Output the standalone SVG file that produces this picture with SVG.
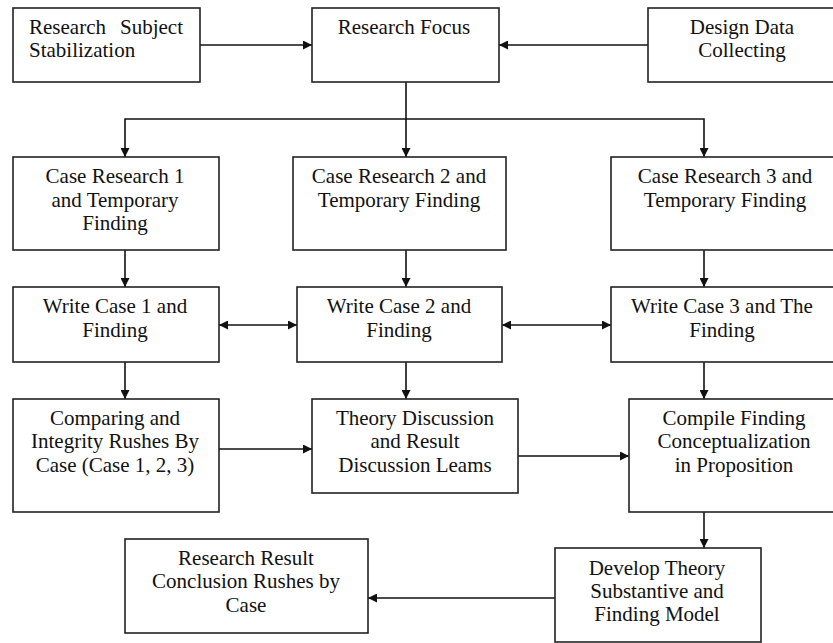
<svg xmlns="http://www.w3.org/2000/svg" width="833" height="643" viewBox="0 0 833 643">
<style>
.box{fill:#fff;stroke:#222;stroke-width:1.6}
.t{font-size:21px;fill:#111;text-anchor:middle}
.c{stroke:#111;stroke-width:1.6;fill:none}
</style>
<defs>
<marker id="ah" viewBox="0 0 10 10" refX="10" refY="5" markerWidth="10" markerHeight="9" markerUnits="userSpaceOnUse" orient="auto-start-reverse">
<path d="M0,0 L10,5 L0,10 z" fill="#111"/>
</marker>
</defs>
<rect width="833" height="643" fill="#fff"/>
<g id="connectors">
<line class="c" x1="200" y1="45" x2="312" y2="45" marker-end="url(#ah)"/>
<line class="c" x1="648" y1="45" x2="499" y2="45" marker-end="url(#ah)"/>
<line class="c" x1="406" y1="82" x2="406" y2="157" marker-end="url(#ah)"/>
<polyline class="c" points="125,157 125,119 704,119 704,157" marker-start="url(#ah)" marker-end="url(#ah)"/>
<line class="c" x1="125" y1="250" x2="125" y2="287" marker-end="url(#ah)"/>
<line class="c" x1="406" y1="250" x2="406" y2="287" marker-end="url(#ah)"/>
<line class="c" x1="704" y1="250" x2="704" y2="287" marker-end="url(#ah)"/>
<line class="c" x1="219" y1="325" x2="297" y2="325" marker-start="url(#ah)" marker-end="url(#ah)"/>
<line class="c" x1="502" y1="325" x2="611" y2="325" marker-start="url(#ah)" marker-end="url(#ah)"/>
<line class="c" x1="125" y1="362" x2="125" y2="399" marker-end="url(#ah)"/>
<line class="c" x1="406" y1="362" x2="406" y2="399" marker-end="url(#ah)"/>
<line class="c" x1="704" y1="362" x2="704" y2="399" marker-end="url(#ah)"/>
<line class="c" x1="219" y1="449" x2="312" y2="449" marker-end="url(#ah)"/>
<line class="c" x1="518" y1="456" x2="629" y2="456" marker-end="url(#ah)"/>
<line class="c" x1="704" y1="512" x2="704" y2="548" marker-end="url(#ah)"/>
<line class="c" x1="555" y1="598" x2="368" y2="598" marker-end="url(#ah)"/>
</g>
<g font-family="Liberation Serif, DejaVu Serif, serif">
<g id="stabilization">
<rect class="box" x="13" y="8" width="187" height="74"/>
<text class="t" style="text-anchor:start"><tspan x="29" y="34">Research</tspan><tspan x="183" y="34" text-anchor="end">Subject</tspan><tspan x="29" y="57">Stabilization</tspan></text>
</g>
<g id="focus">
<rect class="box" x="312" y="8" width="187" height="74"/>
<text class="t" x="404" y="34">Research Focus</text>
</g>
<g id="design">
<rect class="box" x="648" y="8" width="190" height="74"/>
<text class="t"><tspan x="742" y="34">Design Data</tspan><tspan x="742" y="57">Collecting</tspan></text>
</g>
<g id="case1">
<rect class="box" x="13" y="157" width="206" height="93"/>
<text class="t"><tspan x="115" y="183">Case Research 1</tspan><tspan x="115" y="207">and Temporary</tspan><tspan x="115" y="230">Finding</tspan></text>
</g>
<g id="case2">
<rect class="box" x="293" y="157" width="213" height="93"/>
<text class="t"><tspan x="399" y="183">Case Research 2 and</tspan><tspan x="399" y="207">Temporary Finding</tspan></text>
</g>
<g id="case3">
<rect class="box" x="611" y="157" width="227" height="93"/>
<text class="t"><tspan x="725" y="183">Case Research 3 and</tspan><tspan x="725" y="207">Temporary Finding</tspan></text>
</g>
<g id="write1">
<rect class="box" x="13" y="287" width="206" height="75"/>
<text class="t"><tspan x="115" y="313">Write Case 1 and</tspan><tspan x="115" y="337">Finding</tspan></text>
</g>
<g id="write2">
<rect class="box" x="297" y="287" width="205" height="75"/>
<text class="t"><tspan x="399" y="313">Write Case 2 and</tspan><tspan x="399" y="337">Finding</tspan></text>
</g>
<g id="write3">
<rect class="box" x="611" y="287" width="227" height="75"/>
<text class="t"><tspan x="722" y="313">Write Case 3 and The</tspan><tspan x="722" y="337">Finding</tspan></text>
</g>
<g id="comparing">
<rect class="box" x="13" y="399" width="206" height="113"/>
<text class="t"><tspan x="115" y="425">Comparing and</tspan><tspan x="115" y="448">Integrity Rushes By</tspan><tspan x="115" y="472">Case (Case 1, 2, 3)</tspan></text>
</g>
<g id="theory">
<rect class="box" x="312" y="399" width="206" height="94"/>
<text class="t"><tspan x="415" y="425">Theory Discussion</tspan><tspan x="415" y="448">and Result</tspan><tspan x="415" y="472">Discussion Leams</tspan></text>
</g>
<g id="compile">
<rect class="box" x="629" y="399" width="209" height="113"/>
<text class="t"><tspan x="734" y="425">Compile Finding</tspan><tspan x="734" y="448">Conceptualization</tspan><tspan x="734" y="472">in Proposition</tspan></text>
</g>
<g id="develop">
<rect class="box" x="555" y="548" width="206" height="94"/>
<text class="t"><tspan x="657" y="575">Develop Theory</tspan><tspan x="657" y="598">Substantive and</tspan><tspan x="657" y="621">Finding Model</tspan></text>
</g>
<g id="result">
<rect class="box" x="125" y="539" width="243" height="94"/>
<text class="t"><tspan x="246" y="565">Research Result</tspan><tspan x="246" y="588">Conclusion Rushes by</tspan><tspan x="246" y="612">Case</tspan></text>
</g>
</g>
</svg>
